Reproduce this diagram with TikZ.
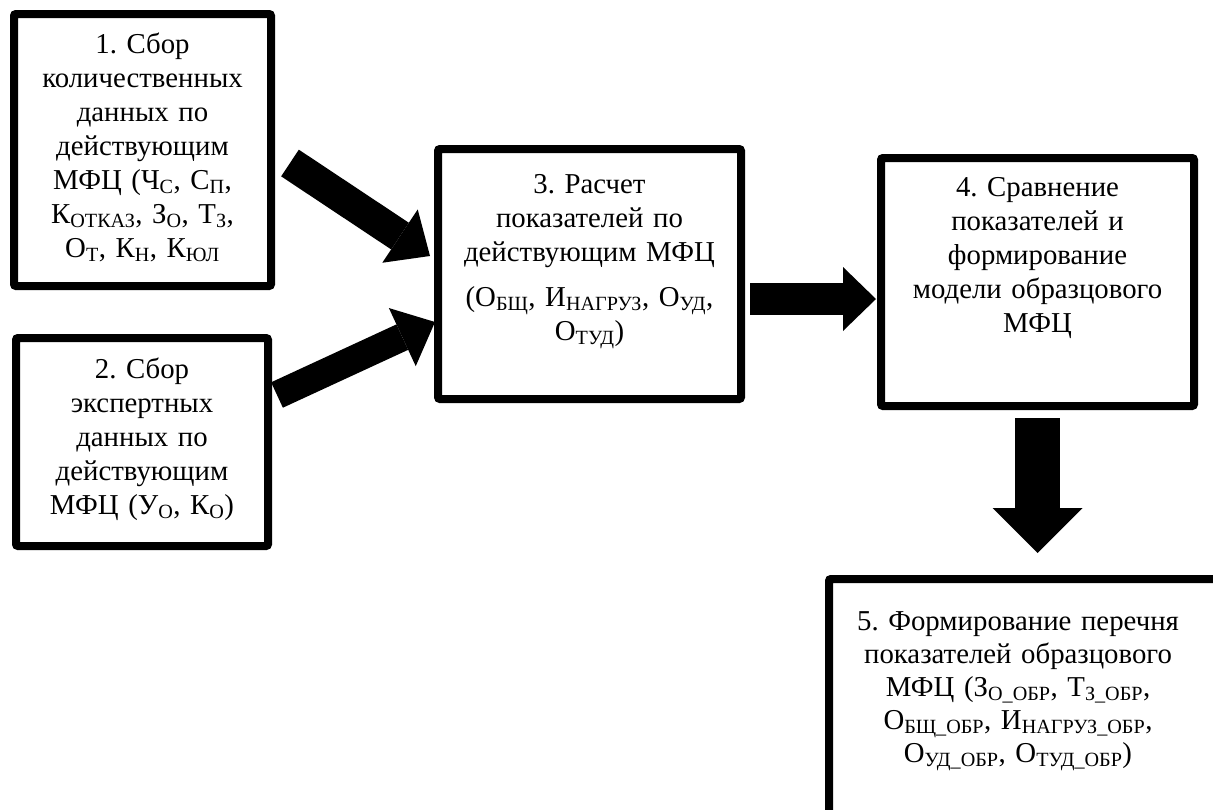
\documentclass[tikz,border=0pt]{standalone}
\usepackage{fontspec}
\setmainfont{Liberation Serif}
\usetikzlibrary{arrows.meta,positioning,calc}
\newcommand{\sbs}[1]{\textsubscript{#1}}
\frenchspacing

\tikzset{
  box/.style={draw,line width=8pt,rounded corners=2pt,inner sep=0pt},
  txt/.style={align=center,text width=380pt,inner sep=0pt,anchor=base,
    font=\fontsize{28.8}{34}\selectfont},
  fat/.style={line width=30pt,-{Triangle[length=36pt,width=64pt,line width=0pt]}},
  fatter/.style={line width=45pt,-{Triangle[length=45pt,width=90pt,line width=0pt]}}
}

\begin{document}
\begin{tikzpicture}[x=1pt,y=-1pt]
  \useasboundingbox (0,0) rectangle (1213,809);
  \clip (0,0) rectangle (1213,809);
  % boxes
  \node[box,minimum width=257,minimum height=272] (b1) at (142.5,150) {};
  \node[box,minimum width=252,minimum height=208] (b2) at (142,442) {};
  \node[box,minimum width=303,minimum height=250] (b3) at (589.5,274) {};
  \node[box,minimum width=313,minimum height=248] (b4) at (1037.5,282) {};
  \node[box,minimum width=420,minimum height=300] (b5) at (1039,729) {};
  % texts
  \node[txt] (t1) at ($(b1.north)+(0,43)$) {1. Сбор\\ количественных\\ данных по\\
    действующим\\ МФЦ (Ч\sbs{С}, С\sbs{П},\\ К\sbs{ОТКАЗ}, З\sbs{О}, Т\sbs{З},\\
    О\sbs{Т}, К\sbs{Н}, К\sbs{ЮЛ}};
  \node[txt] (t2) at ($(b2.north)+(0,44)$) {2. Сбор\\ экспертных\\ данных по\\
    действующим\\ МФЦ (У\sbs{О}, К\sbs{О})};
  \node[txt] (t3) at ($(b3.north)+(0,48)$) {3. Расчет\\ показателей по\\
    действующим МФЦ\\[11pt] (О\sbs{БЩ}, И\sbs{НАГРУЗ}, О\sbs{УД},\\ О\sbs{ТУД})};
  \node[txt] (t4) at ($(b4.north)+(0,42)$) {4. Сравнение\\ показателей и\\
    формирование\\ модели образцового\\ МФЦ};
  \node[txt,font=\fontsize{28.8}{33}\selectfont] (t5) at ($(b5.north)+(-21,55)$)
    {5. Формирование перечня\\ показателей образцового\\
    МФЦ (З\sbs{О\_ОБР}, Т\sbs{З\_ОБР},\\ О\sbs{БЩ\_ОБР}, И\sbs{НАГРУЗ\_ОБР},\\
    О\sbs{УД\_ОБР}, О\sbs{ТУД\_ОБР})};
  % block arrows
  \draw[fat,line width=32pt] ($(b1.east)+(15,13)$) -- ($(b3.west)+(-4,-18)$);
  \draw[fat,line width=28pt] ($(b2.east)+(5,-47)$) -- ($(b3.west)+(1,48)$);
  \draw[fat,line width=32pt,-{Triangle[length=33pt,width=64pt,line width=0pt]}]
    ($(b3.east)+(5,25)$) -- ($(b4.west)+(-1,17)$);
  \draw[fatter] ($(b4.south)+(0,8)$) -- ($(b4.south)+(0,143)$);
\end{tikzpicture}
\end{document}
